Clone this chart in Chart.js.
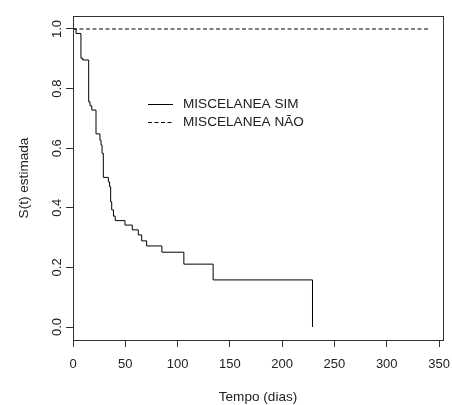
<!DOCTYPE html>
<html>
<head>
<meta charset="utf-8">
<script src="https://cdn.jsdelivr.net/npm/chart.js@4"></script>
<style>
  body { margin: 0; background: #fff; }
  #wrap { width: 452px; height: 405px; }
</style>
</head>
<body>
<div id="wrap"><canvas id="kmChart" width="452" height="405"></canvas></div>
<script>
// Kaplan-Meier steps: time (days) and S(t) after each drop
const simTimes = [0, 2.9, 7.6, 9.3, 15, 16.3, 18, 22, 25.8, 26.8, 27.8, 29, 33.8, 35, 36, 37, 38.7, 40.4, 49.7, 56.7, 62.4, 65.7, 70.4, 85, 106, 134, 229];
const simSurv  = [1.0, 0.985, 0.902, 0.896, 0.756, 0.742, 0.728, 0.648, 0.627, 0.611, 0.583, 0.502, 0.487, 0.471, 0.42, 0.393, 0.372, 0.357, 0.342, 0.326, 0.309, 0.289, 0.272, 0.251, 0.211, 0.158, 0.0];
const naoTimes = [0, 341];
const naoSurv  = [1.0, 1.0];

const xTicks = [0, 50, 100, 150, 200, 250, 300, 350];
const yTicks = [0.0, 0.2, 0.4, 0.6, 0.8, 1.0];
const seriesNames = ['MISCELANEA SIM', 'MISCELANEA NÃO'];
const xTitle = 'Tempo (dias)';
const yTitle = 'S(t) estimada';

const FONT = '13px "Liberation Sans", Arial, sans-serif';
const FONT_BIG = '13.6px "Liberation Sans", Arial, sans-serif';
const INK = '#222';
const AXIS = '#333';

const toPoints = (xs, ys) => xs.map((x, i) => ({ x: x, y: ys[i] }));

// Box, rotated y labels, x labels, titles and the inset legend
const rPlot = {
    id: 'rPlot',
    afterDraw(chart) {
        const ctx = chart.ctx, a = chart.chartArea;
        const xs = chart.scales.x, ys = chart.scales.y;
        ctx.save();
        ctx.strokeStyle = AXIS;
        ctx.lineWidth = 1;
        ctx.strokeRect(Math.round(a.left) + 0.5, Math.round(a.top) + 0.5, Math.round(a.right - a.left), Math.round(a.bottom - a.top));

        ctx.fillStyle = INK;
        ctx.font = FONT;
        ctx.textAlign = 'center';
        ctx.textBaseline = 'middle';
        xTicks.forEach(v => ctx.fillText(String(v), xs.getPixelForValue(v), 364));

        yTicks.forEach(v => {
            ctx.save();
            ctx.translate(57, ys.getPixelForValue(v));
            ctx.rotate(-Math.PI / 2);
            ctx.fillText(v.toFixed(1), 0, 0);
            ctx.restore();
        });

        ctx.font = FONT_BIG;
        ctx.fillText(xTitle, (a.left + a.right) / 2, 397);
        ctx.save();
        ctx.translate(24, (a.top + a.bottom) / 2);
        ctx.rotate(-Math.PI / 2);
        ctx.fillText(yTitle, 0, 0);
        ctx.restore();

        // legend
        const legY = [104, 122];
        ctx.strokeStyle = '#000';
        ctx.textAlign = 'left';
        seriesNames.forEach((name, i) => {
            ctx.setLineDash(i === 0 ? [] : [4, 2.5]);
            ctx.beginPath();
            ctx.moveTo(148, legY[i] + 0.5);
            ctx.lineTo(173, legY[i] + 0.5);
            ctx.stroke();
            ctx.fillText(name, 183, legY[i]);
        });
        ctx.restore();
    }
};

new Chart(document.getElementById('kmChart'), {
    type: 'scatter',
    data: {
        datasets: [
            {
                label: seriesNames[0],
                data: toPoints(simTimes, simSurv),
                showLine: true,
                stepped: true,
                borderColor: '#000',
                borderWidth: 1,
                pointRadius: 0
            },
            {
                label: seriesNames[1],
                data: toPoints(naoTimes, naoSurv),
                showLine: true,
                borderColor: '#000',
                borderWidth: 1,
                borderDash: [4, 2.5],
                pointRadius: 0
            }
        ]
    },
    options: {
        responsive: false,
        animation: false,
        layout: { padding: { top: 16, right: 9, left: 0, bottom: 0 } },
        plugins: {
            legend: { display: false },
            tooltip: { enabled: false }
        },
        scales: {
            x: {
                type: 'linear',
                min: 0,
                max: 353.8,
                afterBuildTicks: s => { s.ticks = xTicks.map(v => ({ value: v })); },
                afterFit: s => { s.height = 65; },
                ticks: { display: false },
                grid: { drawOnChartArea: false, drawTicks: true, tickLength: 7, color: AXIS },
                border: { display: false }
            },
            y: {
                type: 'linear',
                min: -0.0436,
                max: 1.0436,
                afterBuildTicks: s => { s.ticks = yTicks.map(v => ({ value: v })); },
                afterFit: s => { s.width = 73; },
                ticks: { display: false },
                grid: { drawOnChartArea: false, drawTicks: true, tickLength: 7, color: AXIS },
                border: { display: false }
            }
        }
    },
    plugins: [rPlot]
});
</script>
</body>
</html>
